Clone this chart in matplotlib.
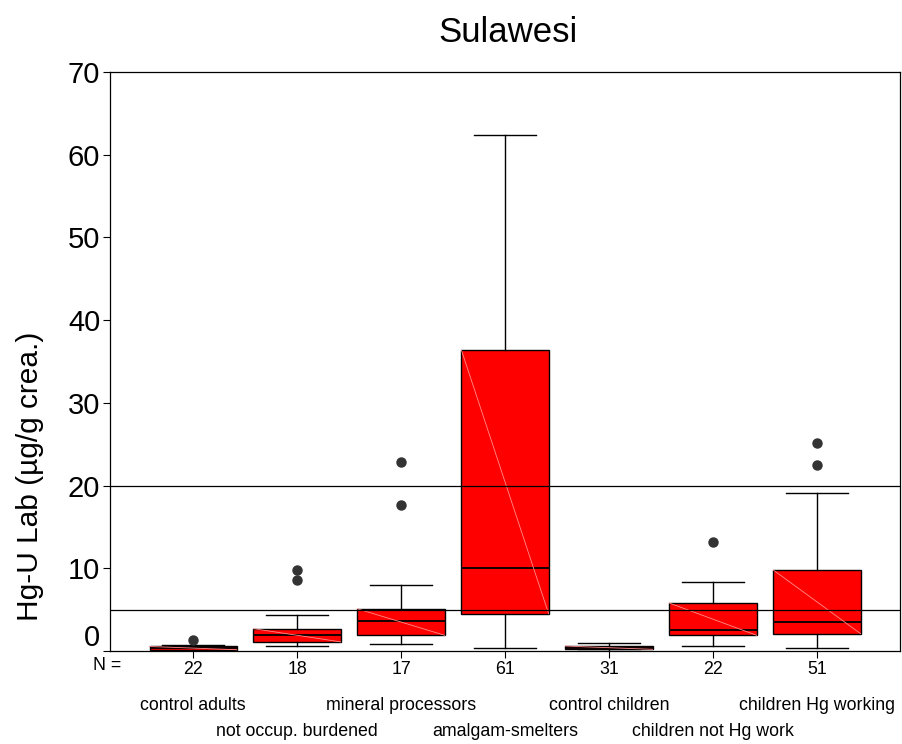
import matplotlib
matplotlib.use("Agg")
import matplotlib.pyplot as plt
from matplotlib import font_manager
from matplotlib.transforms import ScaledTranslation

# Urinary mercury by exposure group, Sulawesi
groups = ['control adults', 'not occup. burdened', 'mineral processors',
          'amalgam-smelters', 'control children', 'children not Hg work',
          'children Hg working']
n_counts = [22, 18, 17, 61, 31, 22, 51]
whisker_lo = [0.05, 0.6, 0.8, 0.4, 0.05, 0.6, 0.4]
q1 = [0.15, 1.1, 1.9, 4.5, 0.2, 1.9, 2.1]
medians = [0.35, 1.9, 3.6, 10.0, 0.4, 2.5, 3.5]
q3 = [0.55, 2.7, 5.1, 36.4, 0.6, 5.8, 9.8]
whisker_hi = [0.7, 4.3, 8.0, 62.4, 1.0, 8.3, 19.1]
outliers = [[1.3], [8.6, 9.8], [17.7, 22.9], [], [], [13.2], [22.5, 25.2]]
ref_levels = [5, 20]

names = {f.name for f in font_manager.fontManager.ttflist}
main_font = 'Liberation Sans'
narrow_font = 'Liberation Sans Narrow' if 'Liberation Sans Narrow' in names else 'Liberation Sans'
small_size = 14 if narrow_font == 'Liberation Sans Narrow' else 12.8
plt.rcParams['font.family'] = [main_font, 'DejaVu Sans']

fig = plt.figure(figsize=(9.03, 7.44), dpi=100)
ax = fig.add_axes([110 / 903, 1 - 651 / 744, 790 / 903, 579 / 744])

positions = list(range(1, len(groups) + 1))
stats = []
for i in range(len(groups)):
    stats.append({
        'whislo': whisker_lo[i], 'q1': q1[i], 'med': medians[i],
        'q3': q3[i], 'whishi': whisker_hi[i], 'fliers': outliers[i],
    })

box_w = 0.84
ax.bxp(stats, positions=positions, widths=box_w, capwidths=0.6,
       patch_artist=True, showfliers=True,
       boxprops=dict(facecolor='#ff0000', edgecolor='black', linewidth=1.0),
       medianprops=dict(color='black', linewidth=1.3),
       whiskerprops=dict(color='black', linewidth=1.0),
       capprops=dict(color='black', linewidth=1.0),
       flierprops=dict(marker='o', markerfacecolor='#333333',
                       markeredgecolor='#333333', markersize=6.5))

# faint diagonal across each box
for p, lo, hi in zip(positions, q1, q3):
    ax.plot([p - box_w / 2, p + box_w / 2], [hi, lo], color='#ff8c8c',
            linewidth=0.6, zorder=3)

for lvl in ref_levels:
    ax.axhline(lvl, color='black', linewidth=0.9, zorder=6)

ax.set_xlim(0.2, 7.8)
ax.set_ylim(0, 70)
ax.set_yticks(range(0, 71, 10))
ax.tick_params(axis='y', labelsize=21, length=5, width=0.8, pad=2)
ax.tick_params(axis='x', length=5, width=0.8, labelsize=small_size, pad=2)
ax.set_xticks(positions)
ax.set_xticklabels([str(n) for n in n_counts], fontfamily=narrow_font)
for sp in ax.spines.values():
    sp.set_linewidth(0.9)

# zero label sits a little above the axis corner
zero_lbl = ax.get_yticklabels()[0]
zero_lbl.set_transform(zero_lbl.get_transform() +
                       ScaledTranslation(0, 0.16, fig.dpi_scale_trans))

fig.text(107 / 903, 1 - 666 / 744, 'N =', ha='center', va='center',
         fontsize=small_size, family=narrow_font)
for i, (p, name) in enumerate(zip(positions, groups)):
    row_y = 705 if i % 2 == 0 else 732
    ax.annotate(name, xy=(p, 0), xycoords=('data', 'axes fraction'),
                xytext=(p, 1 - row_y / 744), textcoords=('data', 'figure fraction'),
                ha='center', va='center', fontsize=small_size, family=narrow_font)

fig.text(508 / 903, 1 - 33 / 744, 'Sulawesi', ha='center', va='center', fontsize=25)
fig.text(30 / 903, 1 - 476 / 744, 'Hg-U Lab (µg/g crea.)', rotation=90,
         ha='center', va='center', fontsize=21.5)

fig.savefig('out.png', dpi=100)
